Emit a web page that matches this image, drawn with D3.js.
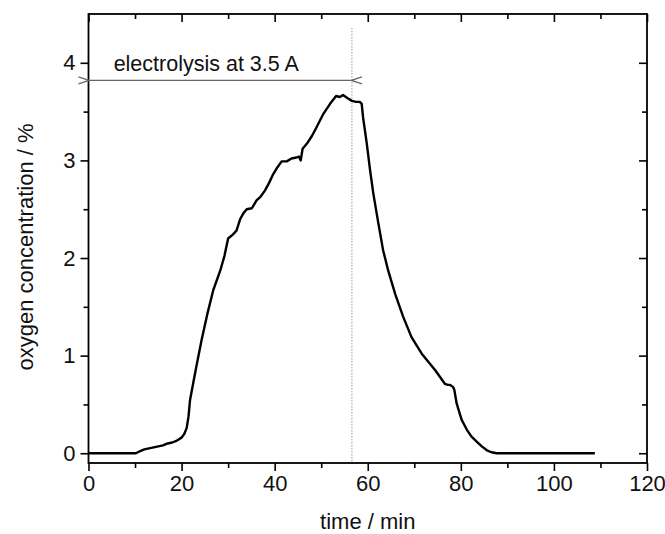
<!DOCTYPE html>
<html>
<head>
<meta charset="utf-8">
<script src="https://cdn.jsdelivr.net/npm/d3@7"></script>
<style>
    body { margin: 0; background: #fff; }
    svg text { font-family: "Liberation Sans", Arial, sans-serif; fill: #111; }
</style>
</head>
<body>
<div id="chart-container"></div>
<script>
// time in minutes
const times = [0, 10.2, 11, 12, 13, 14, 15, 16, 17, 18, 19, 20, 20.6, 21.1, 21.5, 21.8, 22.5, 23.3, 24.3, 25.5,
    26.8, 28.3, 29.2, 30.0, 31.0, 31.8, 32.6, 33.3, 34.0, 35.1, 35.6, 36.1, 37.0, 37.9, 38.8, 39.7, 40.6, 41.5,
    42.6, 43.6, 44.7, 45.2, 45.6, 46.0, 46.9, 48.0, 49.0, 50.5, 51.9, 53.2, 54.0, 54.7, 55.6, 56.6, 57.5, 58.3,
    58.7, 59.0, 59.8, 60.5, 61.2, 62.3, 63.3, 64.4, 65.9, 67.6, 69.4, 71.6, 74.5, 76.6, 77.2, 77.7, 78.3, 78.6,
    79.1, 79.8, 80.2, 81.3, 82.3, 83.4, 84.5, 85.6, 86.6, 87.7, 100, 108.8];
// oxygen concentration in %
const oxygen = [0, 0, 0.02, 0.04, 0.05, 0.06, 0.07, 0.08, 0.10, 0.11, 0.13, 0.16, 0.2, 0.26, 0.38, 0.54, 0.72, 0.92, 1.16, 1.42,
    1.67, 1.87, 2.02, 2.20, 2.24, 2.28, 2.40, 2.46, 2.50, 2.51, 2.55, 2.59, 2.63, 2.69, 2.77, 2.86, 2.93, 2.99,
    2.99, 3.02, 3.03, 3.04, 3.0, 3.12, 3.17, 3.25, 3.34, 3.48, 3.58, 3.66, 3.65, 3.67, 3.64, 3.61, 3.60, 3.60,
    3.58, 3.44, 3.17, 2.90, 2.66, 2.35, 2.08, 1.87, 1.63, 1.40, 1.19, 1.02, 0.85, 0.71, 0.70, 0.70, 0.68, 0.65,
    0.51, 0.40, 0.34, 0.24, 0.17, 0.12, 0.07, 0.03, 0.01, 0, 0, 0];

const xMajor = [0, 20, 40, 60, 80, 100, 120];
const xMinor = [10, 30, 50, 70, 90, 110];
const yMajor = [0, 1, 2, 3, 4];
const yMinor = [0.5, 1.5, 2.5, 3.5];

const electrolysisEnd = 56.6;
const arrowLevel = 3.82;
const annotation = "electrolysis at 3.5 A";

const W = 665, H = 534;
const margin = { top: 14, right: 18, bottom: 71, left: 88.5 };
const width = W - margin.left - margin.right;
const height = H - margin.top - margin.bottom;

const svg = d3.select("#chart-container")
    .append("svg")
    .attr("width", W)
    .attr("height", H);

const defs = svg.append("defs");
defs.append("marker")
    .attr("id", "arrow")
    .attr("viewBox", "0 -5 12 10")
    .attr("refX", 0)
    .attr("refY", 0)
    .attr("markerUnits", "userSpaceOnUse")
    .attr("markerWidth", 12)
    .attr("markerHeight", 10)
    .attr("orient", "auto-start-reverse")
    .append("path")
    .attr("d", "M11,-3.5 L0.5,0 L11,3.5")
    .attr("fill", "none")
    .attr("stroke", "#666")
    .attr("stroke-width", 1.3);

const g = svg.append("g")
    .attr("transform", `translate(${margin.left},${margin.top})`);

const x = d3.scaleLinear().domain([0, 120]).range([0, width]);
const y = d3.scaleLinear().domain([-0.1, 4.5]).range([height, 0]);

function styleAxis(sel) {
    sel.select(".domain").remove();
    sel.selectAll(".tick line").attr("stroke", "#000").attr("stroke-width", 1.6);
    sel.selectAll(".tick text").style("font-size", "22px").attr("fill", "#111");
}

// bottom axis
g.append("g")
    .attr("transform", `translate(0,${height})`)
    .call(d3.axisBottom(x).tickValues(xMajor).tickSize(8).tickPadding(4))
    .call(styleAxis);
g.append("g")
    .attr("transform", `translate(0,${height})`)
    .call(d3.axisBottom(x).tickValues(xMinor).tickSize(5).tickFormat(""))
    .call(styleAxis);

// top axis (ticks inward)
g.append("g")
    .call(d3.axisTop(x).tickValues(xMajor).tickSize(-8).tickFormat(""))
    .call(styleAxis);
g.append("g")
    .call(d3.axisTop(x).tickValues(xMinor).tickSize(-5).tickFormat(""))
    .call(styleAxis);

// left axis
g.append("g")
    .call(d3.axisLeft(y).tickValues(yMajor).tickSize(8).tickPadding(5).tickFormat(d3.format("d")))
    .call(styleAxis);
g.append("g")
    .call(d3.axisLeft(y).tickValues(yMinor).tickSize(5).tickFormat(""))
    .call(styleAxis);

// right axis (ticks inward)
g.append("g")
    .attr("transform", `translate(${width},0)`)
    .call(d3.axisRight(y).tickValues(yMajor).tickSize(-8).tickFormat(""))
    .call(styleAxis);
g.append("g")
    .attr("transform", `translate(${width},0)`)
    .call(d3.axisRight(y).tickValues(yMinor).tickSize(-5).tickFormat(""))
    .call(styleAxis);

// frame
g.append("rect")
    .attr("width", width)
    .attr("height", height)
    .attr("fill", "none")
    .attr("stroke", "#000")
    .attr("stroke-width", 1.8);

// end of electrolysis
g.append("line")
    .attr("x1", x(electrolysisEnd))
    .attr("x2", x(electrolysisEnd))
    .attr("y1", 14)
    .attr("y2", height)
    .attr("stroke", "#999")
    .attr("stroke-width", 1)
    .attr("stroke-dasharray", "1.5,1.5");

g.append("line")
    .attr("x1", x(0) + 1)
    .attr("x2", x(electrolysisEnd) - 1)
    .attr("y1", y(arrowLevel))
    .attr("y2", y(arrowLevel))
    .attr("stroke", "#666")
    .attr("stroke-width", 1.2)
    .attr("marker-start", "url(#arrow)")
    .attr("marker-end", "url(#arrow)");

g.append("text")
    .attr("x", x(5.4))
    .attr("y", y(3.92))
    .style("font-size", "21.5px")
    .text(annotation);

// curve
const points = times.map((t, i) => [t, oxygen[i]]);
g.append("path")
    .datum(points)
    .attr("fill", "none")
    .attr("stroke", "#000")
    .attr("stroke-width", 2.4)
    .attr("stroke-linejoin", "round")
    .attr("d", d3.line().x(d => x(d[0])).y(d => y(d[1])));

// axis titles
svg.append("text")
    .attr("x", margin.left + width / 2)
    .attr("y", 529)
    .attr("text-anchor", "middle")
    .style("font-size", "22px")
    .text("time / min");

svg.append("text")
    .attr("transform", "rotate(-90)")
    .attr("x", -247)
    .attr("y", 33)
    .attr("text-anchor", "middle")
    .style("font-size", "22px")
    .text("oxygen concentration / %");
</script>
</body>
</html>
